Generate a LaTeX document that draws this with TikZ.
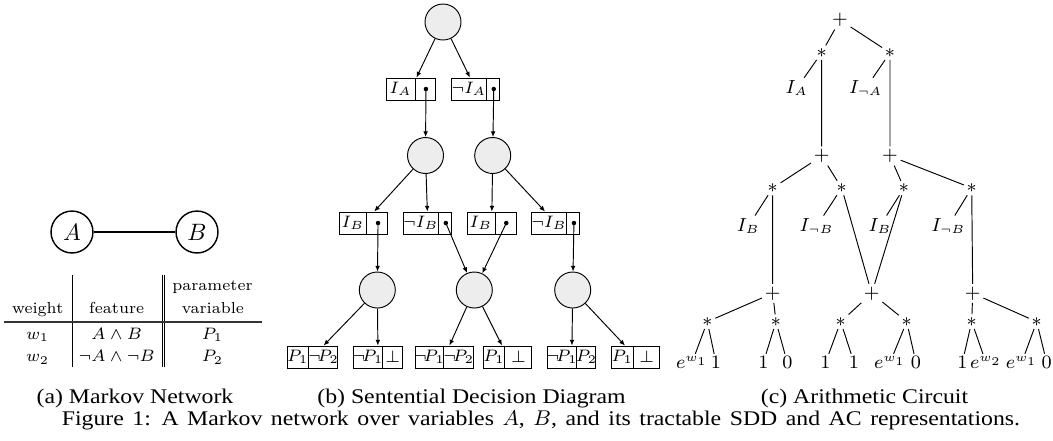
\documentclass[tikz,border=0pt]{standalone}
\usepackage{fontspec}
\newfontfamily\timesfont[FakeStretch=1.14]{Liberation Serif}
\usetikzlibrary{shapes.multipart,arrows.meta}

\begin{document}
\begin{tikzpicture}[x=0.422pt,y=-0.422pt,
	mn/.style={circle,draw,semithick,minimum size=17.7pt,inner sep=0pt},
	sn/.style={circle,draw,fill=black!7,minimum size=15.2pt,inner sep=0pt},
	el/.style={draw,rectangle split,rectangle split horizontal,rectangle split parts=2,inner xsep=0pt,inner ysep=0pt,minimum height=9.3pt,font=\fontsize{7.3}{8}\selectfont},
	arr/.style={-{Latex[length=2.4pt,width=2pt]}},
	tb/.style={anchor=base,inner sep=0pt,font=\fontsize{6.7}{8}\selectfont},
	ac/.style={inner sep=1pt,font=\fontsize{7.6}{8}\selectfont},
	lf/.style={anchor=base,inner sep=1pt,text height=5pt,text depth=0pt,font=\fontsize{7.6}{8}\selectfont},
	captext/.style={anchor=base,inner sep=0pt,font=\timesfont\fontsize{8.8}{10}\selectfont}]
		\useasboundingbox (0,0) rectangle (1053,440);

		% (a) Markov network and its table
		\node[mn] (na) at (72,232) {$A$};
		\node[mn] (nb) at (197,232) {$B$};
		\draw[semithick] (na) -- (nb);
		\draw (72,275) -- (72,367) (162.3,275) -- (162.3,367) (164.7,275) -- (164.7,367);
		\draw[semithick, black!80] (4,322) -- (262,322);
		\node[tb] (hpar) at (212.5,290.7) {parameter};
		\node[tb] (hw) at (37.7,313.3) {weight};
		\node[tb] (hf) at (116.7,313.3) {feature};
		\node[tb] (hv) at (213,313.3) {variable};
		\node[tb] (w1) at (37.7,339.3) {$w_1$};
		\node[tb] (f1) at (116.7,339.3) {$A \wedge B$};
		\node[tb] (v1) at (212.5,339.3) {$P_1$};
		\node[tb] (w2) at (37.7,361.7) {$w_2$};
		\node[tb] (f2) at (116.7,361.7) {$\neg A \wedge \neg B$};
		\node[tb] (v2) at (212.5,361.7) {$P_2$};

		% (b) SDD
		\node[sn] (sr) at (443,22) {};
		\node[el] (e11) at (411,89) {\makebox[11.8pt]{$I_A$}\nodepart{two}\makebox[8.4pt]{}};
		\node[el] (e12) at (475.5,89) {\makebox[14.6pt]{$\neg I_A$}\nodepart{two}\makebox[5.2pt]{}};
		\coordinate (d11) at ([xshift=-4.2pt]e11.east);
		\coordinate (d12) at ([xshift=-2.6pt]e12.east);
		\node[sn] (s21) at (425.5,155.5) {};
		\node[sn] (s22) at (492.7,155.5) {};
		\node[el] (e21) at (363.7,223) {\makebox[11.3pt]{$I_B$}\nodepart{two}\makebox[8.7pt]{}};
		\node[el] (e22) at (427.7,223) {\makebox[14.5pt]{$\neg I_B$}\nodepart{two}\makebox[5.5pt]{}};
		\node[el] (e23) at (491.7,223) {\makebox[11.5pt]{$I_B$}\nodepart{two}\makebox[8.7pt]{}};
		\node[el] (e24) at (555.8,223) {\makebox[14.5pt]{$\neg I_B$}\nodepart{two}\makebox[5.3pt]{}};
		\coordinate (d21) at ([xshift=-4.35pt]e21.east);
		\coordinate (d22) at ([xshift=-2.75pt]e22.east);
		\coordinate (d23) at ([xshift=-4.35pt]e23.east);
		\coordinate (d24) at ([xshift=-2.65pt]e24.east);
		\node[sn] (s31) at (377.3,290) {};
		\node[sn] (s32) at (474.3,290) {};
		\node[sn] (s33) at (572.7,290) {};
		\node[el] (e31) at (312.5,357) {\makebox[8.9pt]{$P_1$}\nodepart{two}\makebox[12.1pt]{$\neg\!P_2$}};
		\node[el] (e32) at (378,357) {\makebox[12pt]{$\neg\!P_1$}\nodepart{two}\makebox[8pt]{$\bot$}};
		\node[el] (e33) at (444.3,357) {\makebox[11.8pt]{$\neg\!P_1$}\nodepart{two}\makebox[12.1pt]{$\neg\!P_2$}};
		\node[el] (e34) at (507.7,357) {\makebox[8.7pt]{$P_1$}\nodepart{two}\makebox[11.1pt]{$\bot$}};
		\node[el] (e35) at (571.8,357) {\makebox[12pt]{$\neg\!P_1$}\nodepart{two}\makebox[7.8pt]{$P_2$}};
		\node[el] (e36) at (635.8,357) {\makebox[8.9pt]{$P_1$}\nodepart{two}\makebox[11pt]{$\bot$}};
		\foreach \d in {d11,d12,d21,d22,d23,d24}
			\fill (\d) circle [radius=0.95pt];
		\draw[arr] (sr) -- (e11);
		\draw[arr] (sr) -- (e12);
		\draw[arr] (d11) -- (s21);
		\draw[arr] (d12) -- (s22);
		\draw[arr] (s21) -- (e21);
		\draw[arr] (s21) -- (e22);
		\draw[arr] (s22) -- (e23);
		\draw[arr] (s22) -- (e24);
		\draw[arr] (d21) -- (s31);
		\draw[arr] (d22) -- (s32);
		\draw[arr] (d23) -- (s32);
		\draw[arr] (d24) -- (s33);
		\draw[arr] (s31) -- (e31);
		\draw[arr] (s31) -- (e32);
		\draw[arr] (s32) -- (e33);
		\draw[arr] (s32) -- (e34);
		\draw[arr] (s33) -- (e35);
		\draw[arr] (s33) -- (e36);

		% (c) arithmetic circuit
		\node[ac] (a0) at (840,20) {$+$};
		\node[ac] (a1) at (821.7,52.7) {$*$};
		\node[ac] (a2) at (890,52.7) {$*$};
		\node[ac] (la1) at (796.7,88.3) {$I_A$};
		\node[ac] (la2) at (865.7,88.3) {$I_{\neg A}$};
		\node[ac] (a3) at (821.7,156) {$+$};
		\node[ac] (a4) at (890,156) {$+$};
		\node[ac] (a5) at (772.7,188) {$*$};
		\node[ac] (a6) at (841.7,188) {$*$};
		\node[ac] (a7) at (904,188) {$*$};
		\node[ac] (a8) at (971.7,188) {$*$};
		\node[ac] (lb1) at (748.3,226) {$I_B$};
		\node[ac] (lb2) at (816.7,226) {$I_{\neg B}$};
		\node[ac] (lb3) at (880,226) {$I_B$};
		\node[ac] (lb4) at (948.3,226) {$I_{\neg B}$};
		\node[ac] (a9) at (772.7,293.3) {$+$};
		\node[ac] (a10) at (871.7,293.3) {$+$};
		\node[ac] (a11) at (972.7,293.3) {$+$};
		\node[ac] (a12) at (707.3,321.7) {$*$};
		\node[ac] (a13) at (776,321.7) {$*$};
		\node[ac] (a14) at (840.7,321.7) {$*$};
		\node[ac] (a15) at (906.7,321.7) {$*$};
		\node[ac] (a16) at (971.7,321.7) {$*$};
		\node[ac] (a17) at (1036.7,321.7) {$*$};
		\node[lf] (l1) at (692,368.5) {$e^{w_1}$};
		\node[lf] (l2) at (716,368.5) {$1$};
		\node[lf] (l3) at (763.3,368.5) {$1$};
		\node[lf] (l4) at (787.3,368.5) {$0$};
		\node[lf] (l5) at (825.5,368.5) {$1$};
		\node[lf] (l6) at (854,368.5) {$1$};
		\node[lf] (l7) at (890,368.5) {$e^{w_1}$};
		\node[lf] (l8) at (916,368.5) {$0$};
		\node[lf] (l9) at (962.3,368.5) {$1$};
		\node[lf] (l10) at (986,368.5) {$e^{w_2}$};
		\node[lf] (l11) at (1021.7,368.5) {$e^{w_1}$};
		\node[lf] (l12) at (1046.7,368.5) {$0$};
		\draw (a0) -- (a1) (a0) -- (a2) (a1) -- (la1) (a1) -- (a3) (a2) -- (la2) (a2) -- (a4);
		\draw (a3) -- (a5) (a3) -- (a6) (a4) -- (a7) (a4) -- (a8);
		\draw (a5) -- (lb1) (a5) -- (a9) (a6) -- (lb2) (a6) -- (a10);
		\draw (a7) -- (lb3) (a7) -- (a10) (a8) -- (lb4) (a8) -- (a11);
		\draw (a9) -- (a12) (a9) -- (a13) (a10) -- (a14) (a10) -- (a15) (a11) -- (a16) (a11) -- (a17);
		\draw (a12) -- (l1) (a12) -- (l2) (a13) -- (l3) (a13) -- (l4) (a14) -- (l5) (a14) -- (l6);
		\draw (a15) -- (l7) (a15) -- (l8) (a16) -- (l9) (a16) -- (l10) (a17) -- (l11) (a17) -- (l12);

		% captions
		\node[captext] (capa) at (135,403.7) {(a) Markov Network};
		\node[captext] (capb) at (471.5,403.7) {(b) Sentential Decision Diagram};
		\node[captext] (capc) at (864.5,403.7) {(c) Arithmetic Circuit};
		\node[captext] (capf) at (541,425.3) {\spaceskip=3.6pt Figure 1: A Markov network over variables $A$, $B$, and its tractable SDD and AC representations.};
		\end{tikzpicture}
\end{document}
